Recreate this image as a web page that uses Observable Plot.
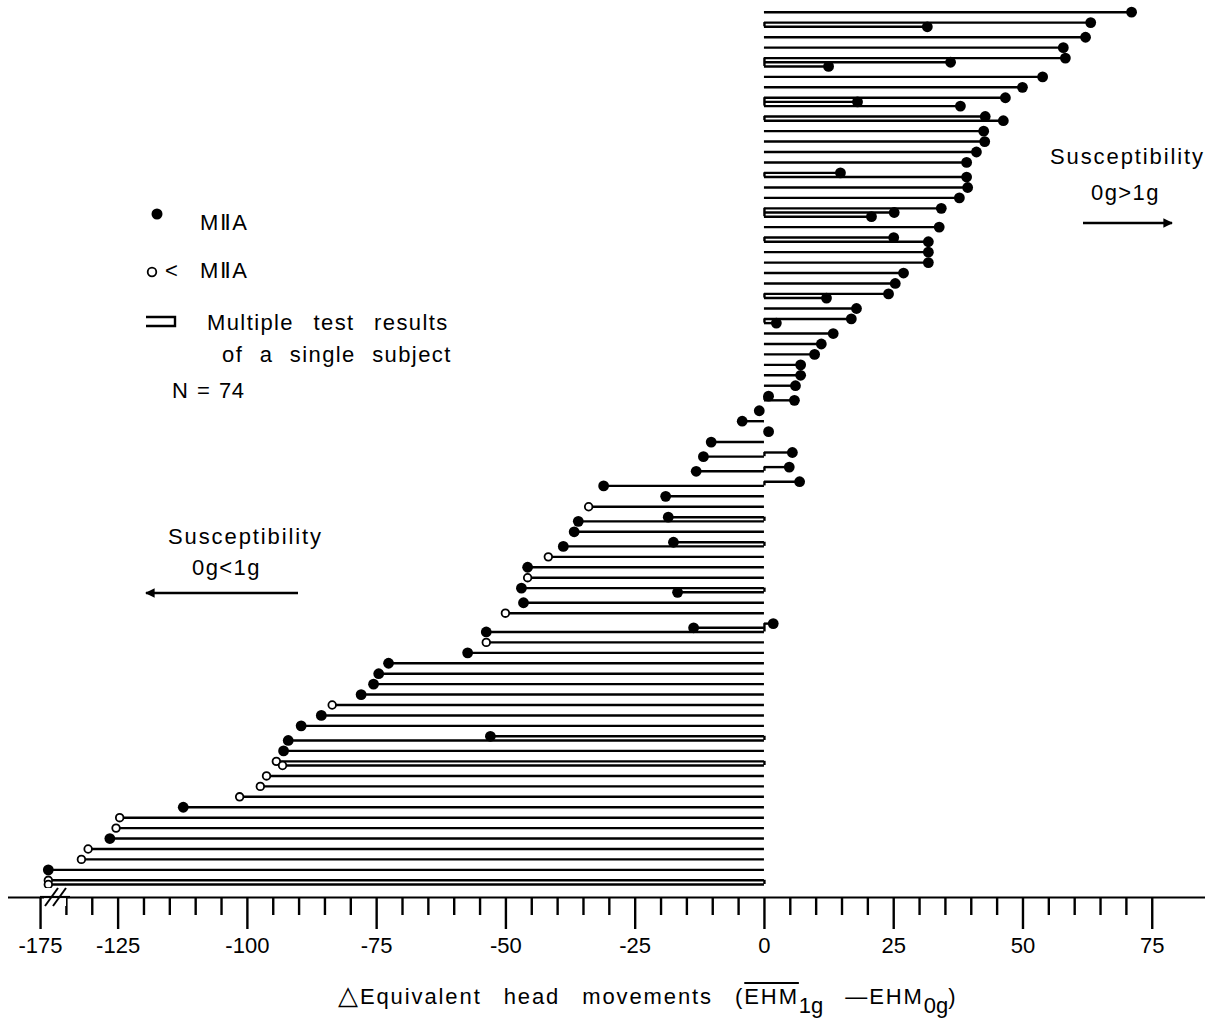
<!DOCTYPE html>
<html><head><meta charset="utf-8">
<script src="https://cdn.jsdelivr.net/npm/d3@7"></script>
<script src="https://cdn.jsdelivr.net/npm/@observablehq/plot@0.6"></script>
<style>
body{margin:0;background:#fff;}
#wrap{position:relative;width:1220px;height:1020px;font-family:"Liberation Sans",Arial,sans-serif;color:#000;overflow:hidden;}
#wrap svg.plot{position:absolute;left:0;top:0;}
.t{position:absolute;font-size:22px;line-height:22px;letter-spacing:1.4px;word-spacing:12px;white-space:nowrap;}
#deco{position:absolute;left:0;top:0;pointer-events:none;}
</style></head><body><div id="wrap"></div>
<script>
// Δ equivalent head movements per subject, top to bottom.
// A subject with several test results has several values (top line first).
const subjectValues = [
  [71], [63.1, 31.5], [62.1], [57.8], [58.2, 36.0, 12.4], [53.8], [49.9],
  [46.6, 18.0, 37.9], [42.7, 46.2], [42.4], [42.6], [41.0], [39.1], [14.7, 39.1],
  [39.3], [37.7], [34.2, 25.1, 20.7], [33.8], [25.0, 31.7], [31.7], [31.7],
  [26.9], [25.3], [24.0, 12.0], [17.8], [16.8, 2.3], [13.3], [11.0], [9.7],
  [7.0], [7.0], [6.0], [0.8, 5.8], [-1.0], [-4.3], [0.8], [-10.3],
  [5.4, -11.8], [4.8, -13.2], [6.8, -31.1], [-19.1], [-34.0], [-18.6, -36.0],
  [-36.8], [-17.6, -38.9], [-41.8], [-45.8], [-45.8], [-47.0, -16.8], [-46.6],
  [-50.1], [1.7, -13.7, -53.8], [-53.8], [-57.4], [-72.7], [-74.6], [-75.6],
  [-78.0], [-83.6], [-85.7], [-89.6], [-53.0, -92.1], [-93.0], [-94.4, -93.2],
  [-96.3], [-97.5], [-101.5], [-112.4], [-124.7], [-125.4], [-126.6],
  [-130.8], [-132.1], [-173.5], [-173.5, -173.5]
];
// F = filled dot (≥ MIIA), O = open dot (< MIIA), one letter per value
const subjectMarkers = [
  "F", "FF", "F", "F", "FFF", "F", "F",
  "FFF", "FF", "F", "F", "F", "F", "FF",
  "F", "F", "FFF", "F", "FF", "F", "F",
  "F", "F", "FF", "F", "FF", "F", "F", "F",
  "F", "F", "F", "FF", "F", "F", "F", "F",
  "FF", "FF", "FF", "F", "O", "FF",
  "F", "FF", "O", "F", "O", "FF", "F",
  "O", "FFF", "O", "F", "F", "F", "F",
  "F", "O", "F", "F", "FF", "F", "OO",
  "O", "O", "O", "F", "O", "O", "F",
  "O", "O", "F", "OO"
];
const majorTicks = [-175, -125, -100, -75, -50, -25, 0, 25, 50, 75];
const minorTicks = [-135, -130, -120, -115, -110, -105, -95, -90, -85, -80, -70, -65, -60, -55,
  -45, -40, -35, -30, -20, -15, -10, -5, 5, 10, 15, 20, 30, 35, 40, 45, 55, 60, 65, 70];

// broken axis: -175 is drawn where -140 would be
const BREAK_SHIFT = 35, BREAK_LIMIT = -137.5;
const brk = v => v < BREAK_LIMIT - BREAK_SHIFT + 5 ? v + BREAK_SHIFT : v;
const unbrk = v => v <= BREAK_LIMIT ? v - BREAK_SHIFT : v;

// layout: one slot per subject, repeated tests of a subject stacked closely
const GAP = 0.4;
const tests = [], brackets = [];
let pos = 0;
subjectValues.forEach((vals, s) => {
  const start = pos;
  const mk = subjectMarkers[s] || "";
  vals.forEach((v, k) => {
    tests.push({subject: s, pos, value: v, x: brk(v), filled: (mk[k] || "F") === "F"});
    if (k < vals.length - 1) pos += GAP;
  });
  if (vals.length > 1) brackets.push({y1: start, y2: pos});
  pos += 1;
});
const lastPos = pos - 1;
const yMax = lastPos + 1.25;

const chart = Plot.plot({
  width: 1220,
  height: 970,
  marginLeft: 8,
  marginRight: 15,
  marginTop: 0,
  marginBottom: 73,
  style: {fontFamily: "Liberation Sans, Arial, sans-serif", fontSize: "22px", color: "black", background: "white"},
  x: {domain: [-146.2, 85.3]},
  y: {domain: [-1.12, yMax], reverse: true, axis: null},
  marks: [
    Plot.ruleY(tests, {y: "pos", x1: () => 0, x2: "x", stroke: "black", strokeWidth: 2.4}),
    Plot.ruleX(brackets, {x: () => 0, y1: "y1", y2: "y2", stroke: "black", strokeWidth: 2.4}),
    Plot.dot(tests.filter(d => d.filled), {x: "x", y: "pos", r: 5.4, fill: "black", stroke: "none"}),
    Plot.dot(tests.filter(d => !d.filled), {x: "x", y: "pos", r: 3.8, fill: "white", stroke: "black", strokeWidth: 1.8}),
    Plot.ruleY([yMax], {stroke: "black", strokeWidth: 2.2}),
    Plot.axisX({ticks: minorTicks, tickSize: 18, tickFormat: () => "", strokeWidth: 2.4, label: null}),
    Plot.axisX({ticks: majorTicks.map(brk), tickSize: 32, tickPadding: 8, strokeWidth: 2.4,
      tickFormat: d => String(unbrk(d)), label: null})
  ]
});
chart.classList.add("plot");
const wrap = document.getElementById("wrap");
wrap.appendChild(chart);

// decorations: legend symbols, arrows, axis break marks
const ns = "http://www.w3.org/2000/svg";
const deco = document.createElementNS(ns, "svg");
deco.setAttribute("id", "deco");
deco.setAttribute("width", 1220);
deco.setAttribute("height", 1020);
deco.innerHTML = `
  <defs><marker id="ah" viewBox="0 0 10 10" refX="9" refY="5" markerWidth="5" markerHeight="4" orient="auto-start-reverse">
    <path d="M0,0 L10,5 L0,10 z" fill="black"/></marker></defs>
  <circle cx="157" cy="214" r="5.5" fill="black"/>
  <circle cx="152" cy="272" r="4.3" fill="white" stroke="black" stroke-width="1.8"/>
  <path d="M146,317 H175 V326 H146" fill="none" stroke="black" stroke-width="2.4"/>
  <line x1="1083" y1="223" x2="1172" y2="223" stroke="black" stroke-width="2.4" marker-end="url(#ah)"/>
  <line x1="298" y1="593" x2="146" y2="593" stroke="black" stroke-width="2.4" marker-end="url(#ah)"/>
  <rect x="44" y="888" width="22" height="18" fill="white"/>
  <line x1="40" y1="897" x2="70" y2="897" stroke="black" stroke-width="2.2"/>
  <line x1="45" y1="906" x2="58" y2="888" stroke="black" stroke-width="2"/>
  <line x1="53" y1="906" x2="66" y2="888" stroke="black" stroke-width="2"/>
`;
wrap.appendChild(deco);

function label(html, left, top, extra) {
  const d = document.createElement("div");
  d.className = "t";
  d.style.left = left + "px";
  d.style.top = top + "px";
  if (extra) d.style.cssText += extra;
  d.innerHTML = html;
  wrap.appendChild(d);
}
label("Susceptibility", 1050, 146, "letter-spacing:1.9px;");
label("0g&gt;1g", 1091, 182);
label("Susceptibility", 168, 526, "letter-spacing:1.9px;");
label("0g&lt;1g", 192, 557);
label("MⅡA", 200, 212);
label("&lt;", 165, 260);
label("MⅡA", 200, 260);
label("Multiple test results", 207, 312);
label("of a single subject", 222, 344, "word-spacing:9px;");
label("N = 74", 172, 380, "word-spacing:2px;letter-spacing:0.5px;");
label('<span style="font-size:26px">△</span>Equivalent head movements (<span style="text-decoration:overline">EHM</span><span style="position:relative;top:9px;letter-spacing:0">1g</span> —EHM<span style="position:relative;top:9px;letter-spacing:0">0g</span>)', 338, 984, "word-spacing:14px;letter-spacing:1.9px;");
</script></body></html>
